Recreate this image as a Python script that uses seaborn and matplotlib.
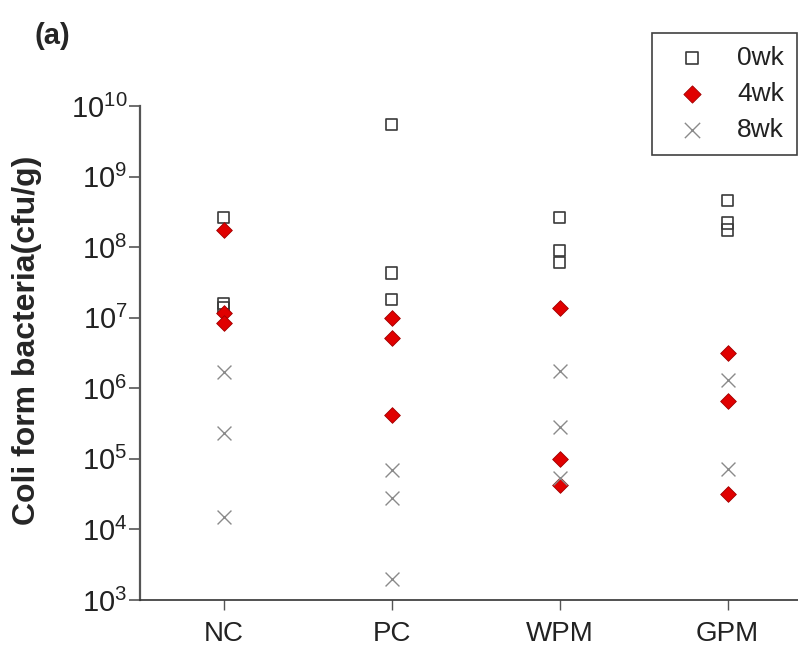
import numpy as np
import pandas as pd
import matplotlib
matplotlib.use("Agg")
import matplotlib.pyplot as plt
import seaborn as sns

sns.set_theme(style="white")
plt.rcParams['font.family'] = ['Liberation Sans', 'DejaVu Sans']
plt.rcParams['mathtext.default'] = 'regular'

groups = ["NC", "PC", "WPM", "GPM"]

wk0_groups = ["NC", "NC", "NC", "PC", "PC", "PC", "WPM", "WPM", "WPM", "GPM", "GPM", "GPM"]
wk0_cfu = [2.6e8, 1.6e7, 1.4e7, 5.4e9, 4.3e7, 1.8e7, 2.6e8, 9.0e7, 6.0e7, 4.6e8, 2.2e8, 1.75e8]

wk4_groups = ["NC", "NC", "NC", "PC", "PC", "PC", "WPM", "WPM", "WPM", "GPM", "GPM", "GPM"]
wk4_cfu = [1.75e8, 1.17e7, 8.4e6, 1.0e7, 5.1e6, 4.2e5, 1.38e7, 1.0e5, 4.3e4, 3.2e6, 6.6e5, 3.2e4]

wk8_groups = ["NC", "NC", "NC", "PC", "PC", "PC", "WPM", "WPM", "WPM", "GPM", "GPM"]
wk8_cfu = [1.7e6, 2.3e5, 1.5e4, 6.9e4, 2.8e4, 2.0e3, 1.76e6, 2.8e5, 5.4e4, 1.3e6, 7.2e4]

df0 = pd.DataFrame({"group": pd.Categorical(wk0_groups, categories=groups), "cfu": wk0_cfu})
df4 = pd.DataFrame({"group": pd.Categorical(wk4_groups, categories=groups), "cfu": wk4_cfu})
df8 = pd.DataFrame({"group": pd.Categorical(wk8_groups, categories=groups), "cfu": wk8_cfu})

fig = plt.figure(figsize=(7.98, 6.57), dpi=100)
ax = fig.add_axes([140 / 798, 57 / 657, 1 - 140 / 798, 494 / 657])

sns.stripplot(data=df0, x="group", y="cfu", order=groups, jitter=False, ax=ax,
              marker="s", size=8, color="none", edgecolor="#3a3a3a", linewidth=1.2,
              label="0wk", log_scale=True)
sns.stripplot(data=df4, x="group", y="cfu", order=groups, jitter=False, ax=ax,
              marker="D", size=8, color="#e00000", edgecolor="#a00000", linewidth=0.6,
              label="4wk")
sns.stripplot(data=df8, x="group", y="cfu", order=groups, jitter=False, ax=ax,
              marker="x", size=10, color="#8a8a8a", linewidth=1.0,
              label="8wk")

ax.set_yscale("log")
ax.set_ylim(1e3, 1e10)
ax.set_xlim(-0.5, 3.42)
ax.set_yticks([10.0 ** k for k in range(3, 11)])
ax.yaxis.set_minor_locator(matplotlib.ticker.NullLocator())

for s in ["top", "right"]:
    ax.spines[s].set_visible(False)
ax.spines["left"].set_color("#555555")
ax.spines["bottom"].set_color("#333333")
ax.spines["left"].set_linewidth(1.6)
ax.spines["bottom"].set_linewidth(1.2)

ax.tick_params(axis="y", which="major", direction="out", length=8, width=1.2,
               color="#555555", labelsize=21, pad=1, left=True, labelcolor="#222222")
ax.tick_params(axis="x", which="major", direction="out", length=7, width=1.0,
               color="#555555", labelsize=20, pad=8, bottom=True, labelcolor="#222222")

ax.set_xlabel("")
ax.set_ylabel("Coli form bacteria(cfu/g)", fontsize=23, fontweight="bold")
ax.yaxis.set_label_coords(-0.149, 0.526)

fig.text(35 / 798, 1 - 36 / 657, "(a)", fontsize=21, fontweight="bold", va="center", ha="left")

handles, labels = ax.get_legend_handles_labels()
seen = {}
for h, l in zip(handles, labels):
    if l not in seen:
        seen[l] = h
leg = ax.legend(list(seen.values()), list(seen.keys()), loc="upper right",
                bbox_to_anchor=(797 / 798, 1 - 33 / 657), bbox_transform=fig.transFigure,
                frameon=True, fancybox=False, edgecolor="#111111", fontsize=19,
                borderaxespad=0, handletextpad=0.7, labelspacing=0.45, borderpad=0.5,
                handlelength=2.0, markerscale=1.1)
leg.get_frame().set_linewidth(1.2)
for t in leg.get_texts():
    t.set_color("#222222")

fig.savefig("out.png", dpi=100)
